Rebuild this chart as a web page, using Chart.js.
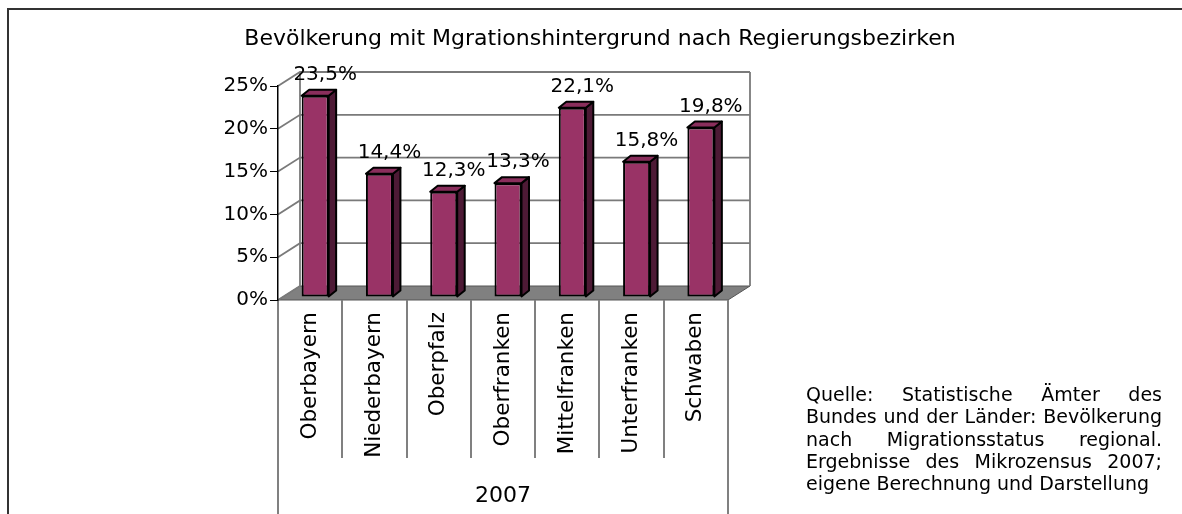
<!DOCTYPE html>
<html>
<head>
<meta charset="utf-8">
<script src="https://cdn.jsdelivr.net/npm/chart.js@4.4.1/dist/chart.umd.min.js"></script>
<style>
  html, body { margin: 0; padding: 0; background: #ffffff; }
  canvas { display: block; }
</style>
</head>
<body>
<canvas id="c" width="1182" height="514"></canvas>
<script>
const titleText = 'Bevölkerung mit Mgrationshintergrund nach Regierungsbezirken';
const categories = ['Oberbayern', 'Niederbayern', 'Oberpfalz', 'Oberfranken', 'Mittelfranken', 'Unterfranken', 'Schwaben'];
const values = [23.5, 14.4, 12.3, 13.3, 22.1, 15.8, 19.8];
const yTicks = [0, 5, 10, 15, 20, 25];
const groupLabel = '2007';
const sourceLines = [
  'Quelle: Statistische Ämter des',
  'Bundes und der Länder: Bevölkerung',
  'nach Migrationsstatus regional.',
  'Ergebnisse des Mikrozensus 2007;',
  'eigene Berechnung und Darstellung'
];

const FONT = '"DejaVu Sans", "Liberation Sans", Arial, sans-serif';
const DEPTH_X = 22, DEPTH_Y = -14;      // wall depth
const BAR_SHIFT_X = 5, BAR_SHIFT_Y = -3; // bars placed slightly inside the depth
const BAR_DX = 7.5, BAR_DY = -6;         // bar depth
const fmt = v => v.toFixed(1).replace('.', ',') + '%';

const scenePlugin = {
  id: 'scene',
  beforeDraw(chart) {
    const ctx = chart.ctx;
    const xs = chart.scales.x, ys = chart.scales.y;
    const L = chart.chartArea.left, R = chart.chartArea.right;
    const B = chart.chartArea.bottom, T = chart.chartArea.top;
    ctx.save();
    ctx.fillStyle = '#ffffff';
    ctx.fillRect(0, 0, chart.width, chart.height);

    // outer frame
    ctx.strokeStyle = '#333333';
    ctx.lineWidth = 2;
    ctx.beginPath();
    ctx.moveTo(8, chart.height + 2);
    ctx.lineTo(8, 9);
    ctx.lineTo(chart.width + 2, 9);
    ctx.stroke();

    // title
    ctx.fillStyle = '#000000';
    ctx.font = '22px ' + FONT;
    ctx.textAlign = 'center';
    ctx.textBaseline = 'alphabetic';
    ctx.fillText(titleText, 600, 45);

    // floor
    ctx.beginPath();
    ctx.moveTo(L, B);
    ctx.lineTo(L + DEPTH_X, B + DEPTH_Y);
    ctx.lineTo(R + DEPTH_X, B + DEPTH_Y);
    ctx.lineTo(R, B);
    ctx.closePath();
    ctx.fillStyle = '#808080';
    ctx.fill();
    ctx.strokeStyle = '#555555';
    ctx.lineWidth = 1;
    ctx.stroke();

    // walls: gridlines on left side wall and back wall
    ctx.strokeStyle = '#7a7a7a';
    ctx.lineWidth = 1.8;
    yTicks.forEach(v => {
      const yp = ys.getPixelForValue(v);
      ctx.beginPath();
      ctx.moveTo(L, yp);
      ctx.lineTo(L + DEPTH_X, yp + DEPTH_Y);
      if (v !== 0) ctx.lineTo(R + DEPTH_X, yp + DEPTH_Y);
      ctx.stroke();
    });
    ctx.beginPath();
    ctx.moveTo(L + DEPTH_X, B + DEPTH_Y);
    ctx.lineTo(L + DEPTH_X, T + DEPTH_Y);
    ctx.moveTo(R + DEPTH_X, B + DEPTH_Y);
    ctx.lineTo(R + DEPTH_X, T + DEPTH_Y);
    ctx.stroke();

    // category dividers below axis
    const n = categories.length;
    const half = (xs.getPixelForValue(1) - xs.getPixelForValue(0)) / 2;
    ctx.strokeStyle = '#808080';
    ctx.lineWidth = 2;
    for (let i = 0; i <= n; i++) {
      const xp = (i < n ? xs.getPixelForValue(i) - half : xs.getPixelForValue(n - 1) + half);
      const outer = (i === 0 || i === n);
      ctx.beginPath();
      ctx.moveTo(Math.round(xp), B);
      ctx.lineTo(Math.round(xp), outer ? chart.height : 458);
      ctx.stroke();
    }

    // group label
    ctx.fillStyle = '#000000';
    ctx.font = '22px ' + FONT;
    ctx.textAlign = 'center';
    ctx.fillText(groupLabel, (L + R) / 2, 502);

    // source text, justified
    ctx.font = '19px ' + FONT;
    ctx.textAlign = 'left';
    const sx0 = 806, sx1 = 1162;
    sourceLines.forEach((line, i) => {
      const yb = 401 + i * 22.3;
      const words = line.split(' ');
      if (i === sourceLines.length - 1 || words.length < 2) {
        ctx.fillText(line, sx0, yb);
        return;
      }
      const total = words.reduce((s, w) => s + ctx.measureText(w).width, 0);
      const gap = (sx1 - sx0 - total) / (words.length - 1);
      let x = sx0;
      words.forEach(w => {
        ctx.fillText(w, x, yb);
        x += ctx.measureText(w).width + gap;
      });
    });
    ctx.restore();
  },
  beforeDatasetsDraw(chart) {
    chart.ctx.save();
    chart.ctx.translate(BAR_SHIFT_X, BAR_SHIFT_Y);
  },
  afterDatasetsDraw(chart) {
    const ctx = chart.ctx;
    const meta = chart.getDatasetMeta(0);
    meta.data.forEach(el => {
      const p = el.getProps(['x', 'y', 'base', 'width'], true);
      const l = p.x - p.width / 2, r = p.x + p.width / 2;
      const t = p.y, b = p.base;
      ctx.lineJoin = 'round';
      ctx.lineWidth = 2;
      ctx.strokeStyle = '#000000';
      // side
      ctx.beginPath();
      ctx.moveTo(r, t);
      ctx.lineTo(r + BAR_DX, t + BAR_DY);
      ctx.lineTo(r + BAR_DX, b + BAR_DY);
      ctx.lineTo(r, b);
      ctx.closePath();
      ctx.fillStyle = '#4d1a35';
      ctx.fill();
      ctx.stroke();
      // top
      ctx.beginPath();
      ctx.moveTo(l, t);
      ctx.lineTo(l + BAR_DX, t + BAR_DY);
      ctx.lineTo(r + BAR_DX, t + BAR_DY);
      ctx.lineTo(r, t);
      ctx.closePath();
      ctx.fillStyle = '#8a2e5c';
      ctx.fill();
      ctx.stroke();
    });
    ctx.restore();

    // value labels
    ctx.save();
    ctx.fillStyle = '#000000';
    ctx.font = '20px ' + FONT;
    ctx.textAlign = 'center';
    ctx.textBaseline = 'middle';
    meta.data.forEach((el, i) => {
      const p = el.getProps(['x', 'y'], true);
      ctx.fillText(fmt(values[i]), p.x + BAR_SHIFT_X + 10, p.y + BAR_SHIFT_Y - 21);
    });
    ctx.restore();
  }
};

new Chart(document.getElementById('c'), {
  type: 'bar',
  data: {
    labels: categories,
    datasets: [{
      data: values,
      backgroundColor: '#993366',
      borderColor: '#000000',
      borderWidth: 2,
      borderSkipped: false,
      barPercentage: 0.42,
      categoryPercentage: 1.0,
      clip: false
    }]
  },
  options: {
    responsive: false,
    animation: false,
    events: [],
    layout: { padding: { top: 86, right: 454, bottom: 0, left: 0 } },
    plugins: {
      legend: { display: false },
      title: { display: false },
      tooltip: { enabled: false }
    },
    scales: {
      x: {
        type: 'category',
        offset: true,
        grid: { display: false, drawTicks: false },
        border: { display: false },
        ticks: {
          autoSkip: false,
          minRotation: 90,
          maxRotation: 90,
          padding: 12,
          color: '#000000',
          font: { family: FONT, size: 21.5 }
        },
        afterFit(scale) { scale.height = 214; }
      },
      y: {
        min: 0,
        max: 25,
        afterBuildTicks(scale) { scale.ticks = yTicks.map(v => ({ value: v })); },
        grid: {
          display: true,
          drawOnChartArea: false,
          drawTicks: true,
          tickLength: 8,
          color: '#000000',
          lineWidth: 1
        },
        border: { display: true, color: '#000000', width: 1.5 },
        ticks: {
          padding: 2,
          color: '#000000',
          font: { family: FONT, size: 20 },
          callback: v => v + '%'
        },
        afterFit(scale) { scale.width = 278; }
      }
    }
  },
  plugins: [scenePlugin]
});
</script>
</body>
</html>
